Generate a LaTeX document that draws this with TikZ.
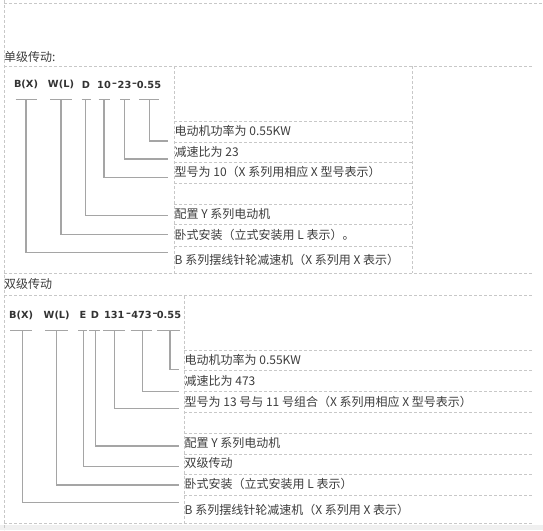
\documentclass[tikz,border=0pt]{standalone}
\usepackage{fontspec}
\setmainfont{Liberation Sans}
\newfontfamily\codefont{DejaVu Sans}
\newfontfamily\cjk{Noto Sans CJK SC}
\definecolor{grid}{RGB}{200,200,200}
\definecolor{conn}{RGB}{165,165,165}
\definecolor{txt}{RGB}{60,60,60}
\definecolor{band}{RGB}{240,240,240}
\begin{document}
\begin{tikzpicture}[x=1pt,y=-1pt,
  gridline/.style={draw=grid,line width=0.8pt,dash pattern=on 3pt off 2pt},
  conline/.style={draw=conn,line width=1.4pt},
  underl/.style={draw=conn,line width=0.9pt},
  code/.style={inner sep=0pt,font=\codefont\fontsize{9.8}{12}\selectfont\bfseries,text=black!80},
  desc/.style={inner sep=0pt,anchor=west,font=\cjk\fontsize{12}{14}\selectfont,text=txt},
  title/.style={inner sep=0pt,anchor=west,font=\cjk\fontsize{12}{14}\selectfont,text=txt}]
\useasboundingbox (0,0) rectangle (543,530);
\fill[band] (0,525) rectangle (543,530);
% outer frame lines
\draw[gridline] (4,3) -- (543,3);
\draw[gridline] (4,0) -- (4,530);
% section 1
\node[title] (t1) at (4,57) {单级传动:};
\draw[gridline] (4,66) -- (533,66);
\draw[gridline] (4,273.3) -- (533,273.3);
\draw[gridline] (174,66) -- (174,273.3);
\draw[gridline] (412,66) -- (412,273.3);
\foreach \y in {121.7,142.3,162.3,183.3,204.3,224.3,246.7}
  \draw[gridline] (174,\y) -- (412,\y);
% codes 1
\node[code] (a1) at (26,84.5) {B(X)};
\node[code] (a2) at (61,84.5) {W(L)};
\node[code] (a3) at (86,84.5) {D};
\node[code] (a4) at (104,84.5) {10};
\node[code] (ad1) at (114.5,84.5) {–};
\node[code] (a5) at (124.5,84.5) {23};
\node[code] (ad2) at (134.5,84.5) {–};
\node[code] (a6) at (149,84.5) {0.55};
% underlines 1
\draw[underl] (15.7,99.3) -- (36.7,99.3);
\draw[underl] (50,99.3) -- (71.7,99.3);
\draw[underl] (81.7,99.3) -- (90.7,99.3);
\draw[underl] (98.7,99.3) -- (110,99.3);
\draw[underl] (120,99.3) -- (130,99.3);
\draw[underl] (139,99.3) -- (159,99.3);
% descriptions 1
\node[desc] (d1) at (174.5,130.5) {电动机功率为 0.55KW};
\node[desc] (d2) at (174.5,151.5) {减速比为 23};
\node[desc] (d3) at (174.5,172) {型号为 10（X 系列用相应 X 型号表示）};
\node[desc] (d4) at (174.5,214) {配置 Y 系列电动机};
\node[desc] (d5) at (174.5,234.5) {卧式安装（立式安装用 L 表示）。};
\node[desc] (d6) at (174.5,260) {B 系列摆线针轮减速机（X 系列用 X 表示）};
% connectors 1
\coordinate (s1) at (26,99.3);   \coordinate (e1) at (168,252.3);
\coordinate (s2) at (61,99.3);   \coordinate (e2) at (168,234.3);
\coordinate (s3) at (85.3,99.3); \coordinate (e3) at (168,215.7);
\coordinate (s4) at (104,99.3);  \coordinate (e4) at (168,177.7);
\coordinate (s5) at (124.3,99.3);\coordinate (e5) at (168,159);
\coordinate (s6) at (149.3,99.3);\coordinate (e6) at (168,141);
\foreach \i in {1,...,6} \draw[conline] (s\i) |- (e\i);
% section 2
\node[title] (t2) at (4,284.3) {双级传动};
\draw[gridline] (4,295.7) -- (533,295.7);
\draw[gridline] (4,523.3) -- (533,523.3);
\draw[gridline] (184,295.7) -- (184,523.3);
\foreach \y in {350.7,370.7,391,412.3,433.3,454,474,495}
  \draw[gridline] (184,\y) -- (533,\y);
% codes 2
\node[code] (b1) at (21.2,315) {B(X)};
\node[code] (b2) at (56.7,315) {W(L)};
\node[code] (b3) at (83,315) {E};
\node[code] (b4) at (95,315) {D};
\node[code] (b5) at (114.3,315) {131};
\node[code] (bd1) at (128.5,315) {–};
\node[code] (b6) at (141.5,315) {473};
\node[code] (bd2) at (155,315) {–};
\node[code] (b7) at (169,315) {0.55};
% underlines 2
\draw[underl] (10,330) -- (32.3,330);
\draw[underl] (45,330) -- (68.3,330);
\draw[underl] (78.3,330) -- (87.3,330);
\draw[underl] (89.3,330) -- (100,330);
\draw[underl] (103.3,330) -- (125,330);
\draw[underl] (130.7,330) -- (151.7,330);
\draw[underl] (157.3,330) -- (180,330);
% descriptions 2
\node[desc] (f1) at (184.5,360) {电动机功率为 0.55KW};
\node[desc] (f2) at (184.5,381) {减速比为 473};
\node[desc] (f3) at (184.5,401.5) {型号为 13 号与 11 号组合（X 系列用相应 X 型号表示）};
\node[desc] (f4) at (184.5,442.7) {配置 Y 系列电动机};
\node[desc] (f5) at (184.5,463.3) {双级传动};
\node[desc] (f6) at (184.5,484) {卧式安装（立式安装用 L 表示）};
\node[desc] (f7) at (184.5,510) {B 系列摆线针轮减速机（X 系列用 X 表示）};
% connectors 2
\coordinate (q1) at (22.3,330);  \coordinate (g1) at (179,502.3);
\coordinate (q2) at (56.7,330);  \coordinate (g2) at (179,485);
\coordinate (q3) at (83.3,330);  \coordinate (g3) at (179,466.7);
\coordinate (q4) at (95.7,330);  \coordinate (g4) at (179,446);
\coordinate (q5) at (114.3,330); \coordinate (g5) at (179,408.3);
\coordinate (q6) at (142.3,330); \coordinate (g6) at (179,391.7);
\coordinate (q7) at (170,330);   \coordinate (g7) at (179,369.3);
\foreach \i in {1,...,7} \draw[conline] (q\i) |- (g\i);
\end{tikzpicture}
\end{document}
